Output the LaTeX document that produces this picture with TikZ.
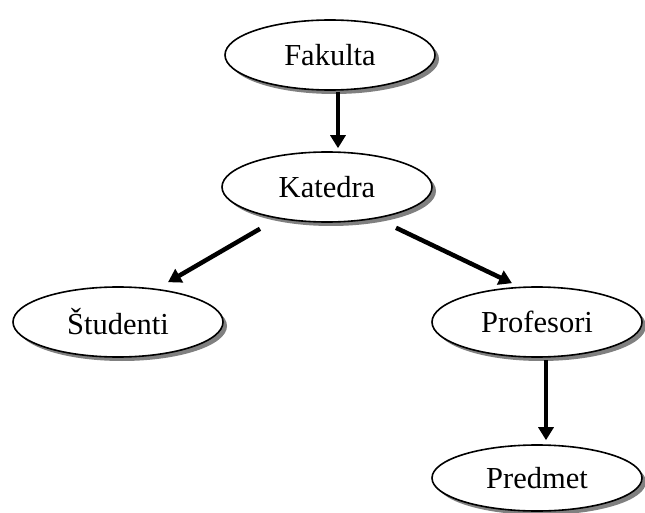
\documentclass[tikz,border=0pt]{standalone}
\usepackage{fontspec}
\setmainfont{Liberation Serif}
\usetikzlibrary{shapes.geometric,shadows,arrows.meta}
\begin{document}
\begin{tikzpicture}[x=1pt,y=-1pt,
  ent/.style={ellipse,draw=black,line width=1.6pt,fill=white,inner sep=0pt,
    minimum width=210pt,minimum height=70pt,font=\fontsize{30.5}{33}\selectfont,
    drop shadow={shadow xshift=4pt,shadow yshift=-4pt,fill=black!50,opacity=1}},
  link/.style={line width=4.5pt,-{Triangle[length=13pt,width=15pt]}}]
\useasboundingbox (0,0) rectangle (645,513);
\node[ent] (fak) at (330,55) {Fakulta};
\node[ent] (kat) at (327,187) {Katedra};
\node[ent] (stu) at (118,322) {Študenti};
\node[ent] (pro) at (537,322) {Profesori};
\node[ent,minimum height=66pt] (pre) at (537,478) {Predmet};
\draw[link] ([xshift=8pt,yshift=-1pt]fak.south) -- ([xshift=11pt,yshift=3pt]kat.north);
\draw[link] ([xshift=-67pt,yshift=-6pt]kat.south) -- ([xshift=50pt,yshift=4pt]stu.north);
\draw[link] ([xshift=69pt,yshift=-5pt]kat.south) -- ([xshift=-25pt,yshift=3pt]pro.north);
\draw[link] ([xshift=9pt,yshift=-2pt]pro.south) -- ([xshift=9pt,yshift=4pt]pre.north);
\end{tikzpicture}
\end{document}
